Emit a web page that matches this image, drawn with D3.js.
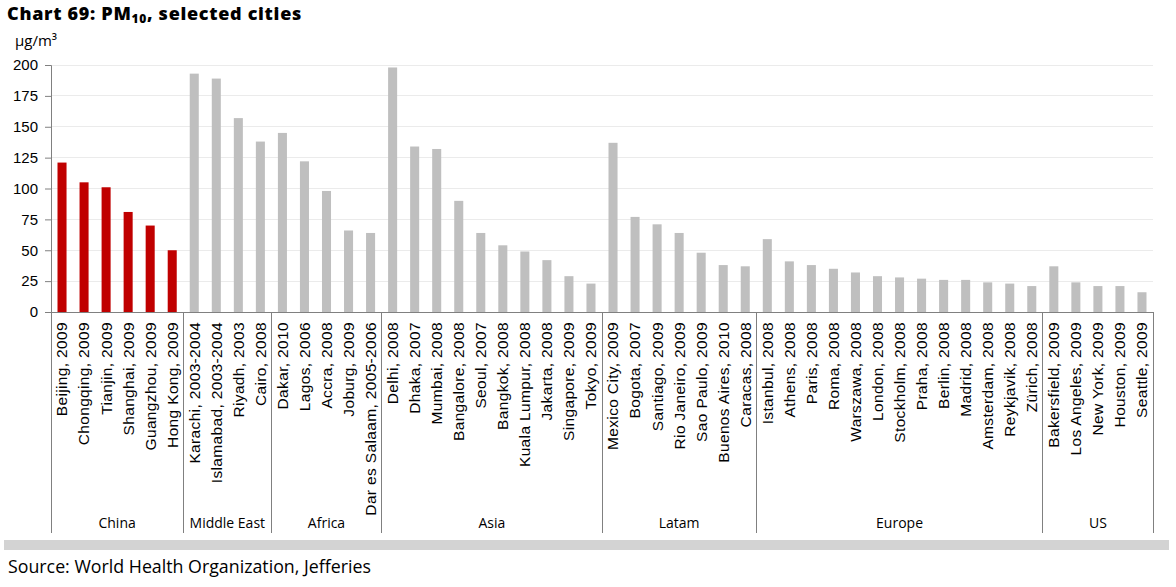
<!DOCTYPE html>
<html>
<head>
<meta charset="utf-8">
<script src="https://cdn.jsdelivr.net/npm/d3@7"></script>
<style>
  html, body { margin: 0; padding: 0; background: #fff; }
  svg { display: block; font-family: "Open Sans", "Noto Sans", sans-serif; }
</style>
</head>
<body>
<svg id="chart" width="1176" height="587"></svg>
<script>
const cities = [
  "Beijing, 2009", "Chongqing, 2009", "Tianjin, 2009", "Shanghai, 2009", "Guangzhou, 2009", "Hong Kong, 2009",
  "Karachi, 2003-2004", "Islamabad, 2003-2004", "Riyadh, 2003", "Cairo, 2008",
  "Dakar, 2010", "Lagos, 2006", "Accra, 2008", "Joburg, 2009", "Dar es Salaam, 2005-2006",
  "Delhi, 2008", "Dhaka, 2007", "Mumbai, 2008", "Bangalore, 2008", "Seoul, 2007", "Bangkok, 2008",
  "Kuala Lumpur, 2008", "Jakarta, 2008", "Singapore, 2009", "Tokyo, 2009",
  "Mexico City, 2009", "Bogota, 2007", "Santiago, 2009", "Rio Janeiro, 2009", "Sao Paulo, 2009",
  "Buenos Aires, 2010", "Caracas, 2008",
  "Istanbul, 2008", "Athens, 2008", "Paris, 2008", "Roma, 2008", "Warszawa, 2008", "London, 2008",
  "Stockholm, 2008", "Praha, 2008", "Berlin, 2008", "Madrid, 2008", "Amsterdam, 2008", "Reykjavik, 2008", "Zürich, 2008",
  "Bakersfield, 2009", "Los Angeles, 2009", "New York, 2009", "Houston, 2009", "Seattle, 2009"
];
const pm10 = [
  121, 105, 101, 81, 70, 50,
  193, 189, 157, 138,
  145, 122, 98, 66, 64,
  198, 134, 132, 90, 64, 54, 49, 42, 29, 23,
  137, 77, 71, 64, 48, 38, 37,
  59, 41, 38, 35, 32, 29, 28, 27, 26, 26, 24, 23, 21,
  37, 24, 21, 21, 16
];
const groupNames = ["China", "Middle East", "Africa", "Asia", "Latam", "Europe", "US"];
const groupCounts = [6, 4, 5, 10, 7, 13, 5];
const yTicks = [0, 25, 50, 75, 100, 125, 150, 175, 200];

const svg = d3.select("#chart");
const plotLeft = 51, plotRight = 1153, plotTop = 65, plotBottom = 312;

const x = d3.scaleBand().domain(cities).range([plotLeft, plotRight]).paddingInner(0.59).paddingOuter(0.295);
const y = d3.scaleLinear().domain([0, 200]).range([plotBottom, plotTop]);

// gridlines
svg.append("g").selectAll("line").data(yTicks.filter(d => d > 0)).join("line")
  .attr("x1", plotLeft).attr("x2", plotRight)
  .attr("y1", d => y(d)).attr("y2", d => y(d))
  .attr("stroke", "#ebebeb").attr("stroke-width", 1).attr("shape-rendering", "crispEdges");

// bars
const chinaSet = new Set(cities.slice(0, groupCounts[0]));
svg.append("g").selectAll("rect").data(cities).join("rect")
  .attr("x", d => x(d))
  .attr("width", x.bandwidth())
  .attr("y", (d, i) => y(pm10[i]))
  .attr("height", (d, i) => y(0) - y(pm10[i]))
  .attr("fill", d => chinaSet.has(d) ? "#c00000" : "#bfbfbf");

// y axis
const yAxis = svg.append("g").attr("transform", `translate(${plotLeft},0)`)
  .call(d3.axisLeft(y).tickValues(yTicks).tickSize(6).tickPadding(7).tickFormat(d3.format("d")));
yAxis.select(".domain").attr("stroke", "#808080");
yAxis.selectAll(".tick line").attr("stroke", "#808080");
yAxis.selectAll("text").attr("font-size", 15).attr("fill", "#000").attr("font-family", null);

// x axis
const xAxis = svg.append("g").attr("transform", `translate(0,${plotBottom})`)
  .call(d3.axisBottom(x).tickSize(0).tickSizeOuter(0));
xAxis.select(".domain").attr("stroke", "#808080");
xAxis.selectAll("text")
  .attr("font-size", 15.5).attr("letter-spacing", 0.35).attr("fill", "#000").attr("font-family", null)
  .attr("x", -10).attr("y", 0).attr("dy", "0.35em")
  .attr("transform", "rotate(-90)")
  .style("text-anchor", "end");

// group separators and labels
const step = x.step();
const bounds = [0];
groupCounts.forEach(c => bounds.push(bounds[bounds.length - 1] + c));
svg.append("g").selectAll("line").data(bounds).join("line")
  .attr("x1", d => plotLeft + d * step).attr("x2", d => plotLeft + d * step)
  .attr("y1", plotBottom).attr("y2", 533)
  .attr("stroke", "#808080").attr("stroke-width", 1).attr("shape-rendering", "crispEdges");
svg.append("g").selectAll("text").data(groupNames).join("text")
  .attr("x", (d, i) => plotLeft + (bounds[i] + bounds[i + 1]) / 2 * step)
  .attr("y", 528)
  .attr("text-anchor", "middle")
  .attr("font-size", 14)
  .text(d => d);

// bottom band
svg.append("rect").attr("x", 4).attr("y", 540).attr("width", 1165).attr("height", 10).attr("fill", "#d3d3d3");

// title
const title = svg.append("text").attr("x", 7).attr("y", 19.5).attr("font-weight", 800).attr("font-size", 18).attr("letter-spacing", 0.7);
title.append("tspan").text("Chart 69: PM");
title.append("tspan").attr("font-size", 12).attr("dy", 3).text("10");
title.append("tspan").attr("dy", -3).text(", selected cities");

// unit
svg.append("text").attr("x", 15).attr("y", 46).attr("font-size", 15).text("µg/m³");

// source
svg.append("text").attr("x", 8).attr("y", 573).attr("font-size", 17.8).text("Source: World Health Organization, Jefferies");
</script>
</body>
</html>
